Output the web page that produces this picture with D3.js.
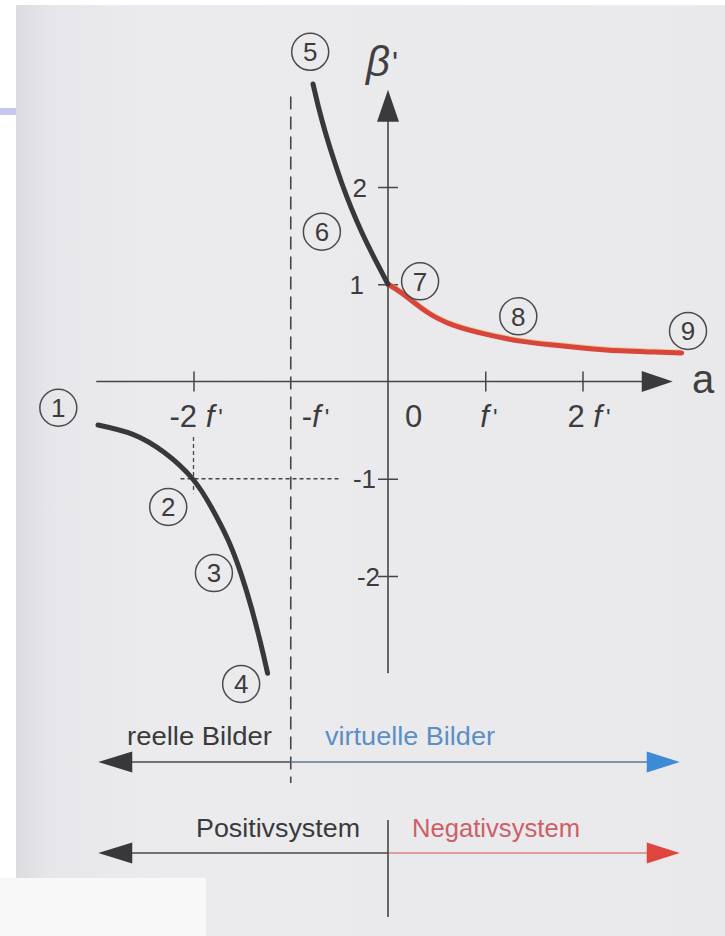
<!DOCTYPE html>
<html>
<head>
<meta charset="utf-8">
<script src="https://cdn.jsdelivr.net/npm/d3@7"></script>
<style>
  html, body { margin: 0; padding: 0; background: #ffffff; }
  svg { display: block; }
  text { font-family: "Liberation Sans", Arial, Helvetica, sans-serif; }
</style>
</head>
<body>
<svg id="chart" width="725" height="936"></svg>
<script>
// Lateral magnification β' of a single lens versus object distance a (a in units of f').

// ---- data ----
const xTickValues = [-2, -1, 0, 1, 2];
const xTickLabels = [["-2 ", "f", "'"], ["-", "f", "'"], ["0", "", ""], ["", "f", "'"], ["2 ", "f", "'"]];
const yTickValues = [2, 1, -1, -2];
const yTickLabels = ["2", "1", "-1", "-2"];

// branch ① – ④ : real images (a < -f')
const realA = [-2.982, -2.624, -2.303, -2.01, -1.811, -1.643, -1.511, -1.403, -1.31, -1.238];
const realB = [-0.447, -0.543, -0.728, -1.0, -1.303, -1.633, -1.978, -2.332, -2.691, -3.0];
// branch ⑤ – ⑦ : virtual images (-f' < a < 0)
const virtA = [-0.771, -0.71, -0.64, -0.561, -0.474, -0.376, -0.265, -0.14, 0];
const virtB = [3.059, 2.803, 2.548, 2.292, 2.036, 1.78, 1.524, 1.269, 1.0];
// branch ⑦ – ⑨ : negative system (a > 0)
const negA = [0, 0.154, 0.40, 0.67, 0.99, 1.36, 1.70, 2.0, 2.39, 2.73, 3.02];
const negB = [1.0, 0.90, 0.715, 0.58, 0.49, 0.415, 0.375, 0.345, 0.315, 0.303, 0.293];

// numbered markers along the curves
const markerIds = ["1", "2", "3", "4", "5", "6", "7", "8", "9"];
const markerA = [-3.39, -2.26, -1.79, -1.51, -0.80, -0.68, 0.33, 1.34, 3.085];
const markerB = [-0.27, -1.29, -1.97, -3.11, 3.39, 1.54, 1.03, 0.67, 0.52];

// range bars below the chart
const imageRanges = ["reelle Bilder", "virtuelle Bilder"];
const systemRanges = ["Positivsystem", "Negativsystem"];
const imageSplit = -1;   // a = -f'
const systemSplit = 0;   // a = 0

// ---- drawing ----
const svg = d3.select("#chart");
const ink = "#464648";
const curveInk = "#38383a";
const redInk = "#d8453b";
const blueArrow = "#3f8ad6";
const redArrow = "#e0453d";

// page background
const defs = svg.append("defs");
const grad = defs.append("linearGradient").attr("id", "pageShade")
  .attr("x1", "0").attr("x2", "1").attr("y1", "0").attr("y2", "0");
grad.append("stop").attr("offset", "0").attr("stop-color", "#dcdbe0");
grad.append("stop").attr("offset", "0.05").attr("stop-color", "#e7e6ea");
grad.append("stop").attr("offset", "0.2").attr("stop-color", "#ebebed");
grad.append("stop").attr("offset", "1").attr("stop-color", "#e9e9eb");

svg.append("rect").attr("x", 0).attr("y", 0).attr("width", 725).attr("height", 936).attr("fill", "#ffffff");
svg.append("rect").attr("x", 16).attr("y", 5).attr("width", 709).attr("height", 931).attr("fill", "url(#pageShade)");
svg.append("rect").attr("x", 0).attr("y", 108).attr("width", 16).attr("height", 7).attr("fill", "#c6c6ee");
svg.append("rect").attr("x", 0).attr("y", 878).attr("width", 206).attr("height", 58).attr("fill", "#f8f8f8");

const x = d3.scaleLinear().domain([-3, 3]).range([96.25, 679.75]);
const y = d3.scaleLinear().domain([-3, 3]).range([673.25, 89.75]);

const g = svg.append("g");

// asymptote a = -f' (dashed, runs down into the range bar)
g.append("line")
  .attr("x1", x(-1)).attr("x2", x(-1))
  .attr("y1", y(2.93)).attr("y2", 783)
  .attr("stroke", ink).attr("stroke-width", 1.6)
  .attr("stroke-dasharray", "13,7");

// helper lines at (-2f', -1)
g.append("line")
  .attr("x1", x(-2) - 13).attr("x2", x(-0.49))
  .attr("y1", y(-1)).attr("y2", y(-1))
  .attr("stroke", ink).attr("stroke-width", 1.3).attr("stroke-dasharray", "4,3");
g.append("line")
  .attr("x1", x(-2)).attr("x2", x(-2))
  .attr("y1", y(-0.57)).attr("y2", y(-1.15))
  .attr("stroke", ink).attr("stroke-width", 1.3).attr("stroke-dasharray", "4,3");

// x axis
const xEnd = x(3) - 7;
g.append("line")
  .attr("x1", x(-3)).attr("x2", xEnd - 20)
  .attr("y1", y(0)).attr("y2", y(0))
  .attr("stroke", ink).attr("stroke-width", 1.6);
g.append("path")
  .attr("d", `M${xEnd},${y(0)} L${xEnd - 31},${y(0) - 10.5} L${xEnd - 31},${y(0) + 10.5} Z`)
  .attr("fill", "#3a3a3c");

// y axis
const yTop = y(3);
g.append("line")
  .attr("x1", x(0)).attr("x2", x(0))
  .attr("y1", yTop + 20).attr("y2", y(-3))
  .attr("stroke", ink).attr("stroke-width", 1.6);
g.append("path")
  .attr("d", `M${x(0)},${yTop} L${x(0) - 11},${yTop + 32} L${x(0) + 11},${yTop + 32} Z`)
  .attr("fill", "#3a3a3c");

// tick marks via d3 axes, crossing the axis lines
const xAxis = d3.axisBottom(x).tickValues(xTickValues.filter(v => v !== 0 && v !== -1)).tickSize(10).tickFormat("");
const xa = g.append("g").attr("transform", `translate(0,${y(0)})`).call(xAxis);
xa.select(".domain").remove();
xa.selectAll(".tick line").attr("y1", -10).attr("y2", 10).attr("stroke", ink).attr("stroke-width", 1.5);

const yAxis = d3.axisLeft(y).tickValues(yTickValues).tickSize(10).tickFormat("");
const ya = g.append("g").attr("transform", `translate(${x(0)},0)`).call(yAxis);
ya.select(".domain").remove();
ya.selectAll(".tick line").attr("x1", -10).attr("x2", 10).attr("stroke", ink).attr("stroke-width", 1.5);

// x tick labels
const xLabelShift = [-24, 11, 17, -5, -15];
xTickValues.forEach((v, i) => {
  const parts = xTickLabels[i];
  const t = g.append("text")
    .attr("x", x(v) + xLabelShift[i]).attr("y", 427)
    .attr("font-size", 31).attr("fill", "#3c3c3e");
  if (parts[0]) t.append("tspan").text(parts[0]);
  if (parts[1]) t.append("tspan").attr("font-style", "italic").text(parts[1]);
  if (parts[2]) t.append("tspan").attr("dx", 4).attr("font-size", 24).attr("dy", -1).text(parts[2]);
});

// y tick labels
const yLabelRight = [367, 364, 376, 380];
yTickValues.forEach((v, i) => {
  g.append("text")
    .attr("x", yLabelRight[i]).attr("y", y(v) + 9.5)
    .attr("text-anchor", "end")
    .attr("font-size", 26).attr("fill", "#3c3c3e")
    .text(yTickLabels[i]);
});

// axis titles
g.append("text").attr("x", 692).attr("y", 393)
  .attr("font-size", 40).attr("fill", "#404042").text("a");
const bt = g.append("text").attr("x", 366).attr("y", 76)
  .attr("font-size", 42).attr("fill", "#404042");
bt.append("tspan").attr("font-style", "italic").text("β");
bt.append("tspan").attr("dx", 2).attr("font-size", 32).attr("dy", -2).text("'");

// curves
const line = d3.line().x(d => x(d[0])).y(d => y(d[1])).curve(d3.curveNatural);
const realPts = realA.map((a, i) => [a, realB[i]]);
const virtPts = virtA.map((a, i) => [a, virtB[i]]);
const negPts = negA.map((a, i) => [a, negB[i]]);

g.append("path").attr("d", line(negPts))
  .attr("transform", "translate(0,-2)")
  .attr("fill", "none").attr("stroke", "#f1b878").attr("stroke-width", 3).attr("opacity", 0.7);
g.append("path").attr("d", line(negPts))
  .attr("fill", "none").attr("stroke", redInk).attr("stroke-width", 5).attr("stroke-linecap", "round");
[realPts, virtPts].forEach(pts => {
  g.append("path").attr("d", line(pts))
    .attr("fill", "none").attr("stroke", curveInk).attr("stroke-width", 5).attr("stroke-linecap", "round");
});

// numbered markers
const mk = g.selectAll(".marker").data(markerIds).enter().append("g")
  .attr("class", "marker")
  .attr("transform", (d, i) => `translate(${x(markerA[i])},${y(markerB[i])})`);
mk.append("circle").attr("r", 18.5).attr("fill", "none").attr("stroke", "#4a4a4c").attr("stroke-width", 1.5);
mk.append("text").attr("text-anchor", "middle").attr("dy", "0.36em")
  .attr("font-size", 26).attr("fill", "#3c3c3e").text(d => d);

// range bars
function rangeBar(yPos, split, labels, leftColor, rightLine, rightArrow, rightText, leftTextX, rightTextX, labelY, lengths) {
  const xl = x(-3) + 2, xr = x(3), xs = x(split);
  g.append("line").attr("x1", xl + 30).attr("x2", xs).attr("y1", yPos).attr("y2", yPos)
    .attr("stroke", leftColor).attr("stroke-width", 1.6);
  g.append("line").attr("x1", xs).attr("x2", xr - 30).attr("y1", yPos).attr("y2", yPos)
    .attr("stroke", rightLine).attr("stroke-width", 1.6);
  g.append("path").attr("d", `M${xl},${yPos} L${xl + 34},${yPos - 10.5} L${xl + 34},${yPos + 10.5} Z`).attr("fill", "#38383a");
  g.append("path").attr("d", `M${xr},${yPos} L${xr - 33},${yPos - 10.5} L${xr - 33},${yPos + 10.5} Z`).attr("fill", rightArrow);
  g.append("text").attr("x", leftTextX).attr("y", labelY).attr("font-size", 25)
    .attr("textLength", lengths[0]).attr("lengthAdjust", "spacingAndGlyphs")
    .attr("fill", "#3a3a3c").text(labels[0]);
  g.append("text").attr("x", rightTextX).attr("y", labelY).attr("font-size", 25)
    .attr("textLength", lengths[1]).attr("lengthAdjust", "spacingAndGlyphs")
    .attr("fill", rightText).text(labels[1]);
}
rangeBar(762, imageSplit, imageRanges, "#4a4a4c", "#5f7690", blueArrow, "#5b8fc6", 127, 325, 745, [145, 170]);
rangeBar(853, systemSplit, systemRanges, "#4a4a4c", "#d88286", redArrow, "#cd5f68", 196, 412, 837, [164, 168]);

// divider for the system bar
g.append("line").attr("x1", x(0)).attr("x2", x(0)).attr("y1", 820).attr("y2", 917)
  .attr("stroke", ink).attr("stroke-width", 1.6);
</script>
</body>
</html>
